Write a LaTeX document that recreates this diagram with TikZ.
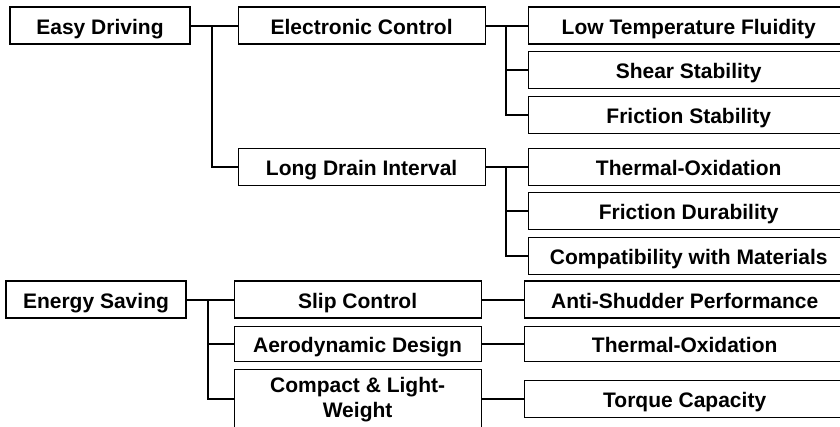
\documentclass[tikz,border=0pt]{standalone}
\usepackage{fontspec}
\setmainfont{Liberation Sans}
\usetikzlibrary{positioning}

\begin{document}
\begin{tikzpicture}[x=1pt, y=-1pt, node distance=6.5pt,
  box/.style={rectangle, draw, line width=1.1pt, minimum height=#1, inner sep=2pt, font=\fontsize{21}{25}\selectfont\bfseries},
  box/.default=37pt,
  line/.style={text height=17pt, text depth=0pt},
  root/.style={box, line, minimum width=180pt},
  mid/.style={box=#1, minimum width=247pt},
  mid/.default=37pt,
  leaf/.style={box=#1, line, minimum width=321pt},
  leaf/.default=37pt,
  link/.style={line width=2pt}]
  \useasboundingbox (0,0) rectangle (840,426);
  \node[root] (ed) at (100,25.5) {Easy Driving};
  \node[mid, line, right=47pt of ed] (ec) {Electronic Control};
  \node[mid, line, below=103pt of ec] (ld) {Long Drain Interval};
  \node[leaf, right=42pt of ec] (lt) {Low Temperature Fluidity};
  \node[leaf, below=of lt] (ss) {Shear Stability};
  \node[leaf, below=of ss] (fs) {Friction Stability};
  \node[leaf, right=42pt of ld] (to) {Thermal-Oxidation};
  \node[leaf, below=of to] (fd) {Friction Durability};
  \node[leaf, below=of fd] (cm) {Compatibility with Materials};
  \node[root] (es) at (96,299.5) {Energy Saving};
  \node[mid, line, right=47pt of es] (sc) {Slip Control};
  \node[mid=35pt, line, below=7pt of sc] (ad) {Aerodynamic Design};
  \node[mid=60pt, align=center, below=7pt of ad] (cl) {Compact \& Light-\\Weight};
  \node[leaf, right=42pt of sc] (as) {Anti-Shudder Performance};
  \node[leaf=35pt, right=42pt of ad] (tt) {Thermal-Oxidation};
  \node[leaf, right=42pt of cl] (tc) {Torque Capacity};
  \coordinate[right=21pt of ed.east] (edj);
  \coordinate[right=20pt of ec.east] (ecj);
  \coordinate[right=20pt of ld.east] (ldj);
  \coordinate[right=21pt of es.east] (esj);
  \draw[link] (ed) -- (ec);
  \draw[link] (edj) |- (ld.west);
  \draw[link] (ec) -- (lt);
  \draw[link] (ecj) |- (ss.west);
  \draw[link] (ecj) |- (fs.west);
  \draw[link] (ld) -- (to);
  \draw[link] (ldj) |- (fd.west);
  \draw[link] (ldj) |- (cm.west);
  \draw[link] (es) -- (sc);
  \draw[link] (esj) |- (ad.west);
  \draw[link] (esj) |- (cl.west);
  \draw[link] (sc) -- (as);
  \draw[link] (ad) -- (tt);
  \draw[link] (cl) -- (tc);
\end{tikzpicture}
\end{document}
